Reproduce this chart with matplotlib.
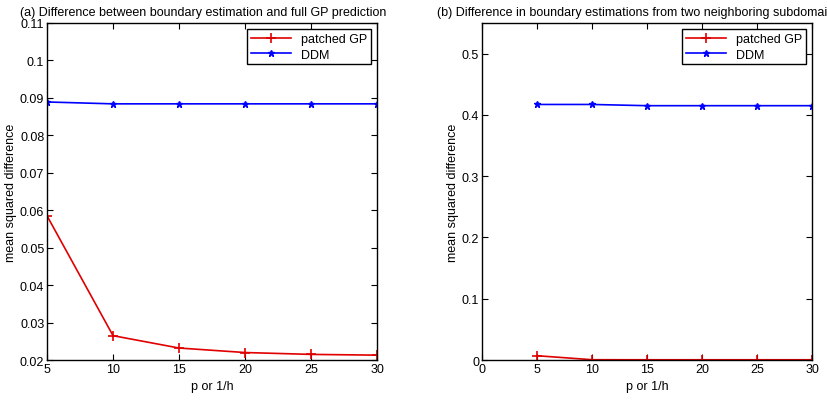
import numpy as np
import matplotlib
matplotlib.use("Agg")
import matplotlib.pyplot as plt

plt.rcParams['font.family'] = ['Liberation Sans', 'DejaVu Sans']
fs = 9

p_vals = [5, 10, 15, 20, 25, 30]

# (a) boundary estimation vs full GP prediction
a_patched = [0.0585, 0.0265, 0.0232, 0.0220, 0.0215, 0.0213]
a_ddm = [0.0889, 0.0884, 0.0884, 0.0884, 0.0884, 0.0884]

# (b) boundary estimations from two neighboring subdomains
b_patched = [0.0070, 0.0005, 0.0004, 0.0004, 0.0004, 0.0004]
b_ddm = [0.417, 0.417, 0.415, 0.415, 0.415, 0.415]

titles = ["(a) Difference between boundary estimation and full GP prediction",
          "(b) Difference in boundary estimations from two neighboring subdomains"]

fig = plt.figure(figsize=(8.28, 4.06), dpi=100)
ax1 = fig.add_axes([0.0568, 0.1108, 0.3986, 0.8302])
ax2 = fig.add_axes([0.5821, 0.1108, 0.3986, 0.8302])


def draw(ax, patched, ddm, title):
    ax.plot(p_vals, patched, color='#e00000', marker='+', markersize=7, lw=1.2,
            mew=1.2, label='patched GP')
    ax.plot(p_vals, ddm, color='#0000ff', marker='*', markersize=5, lw=1.2,
            label='DDM')
    ax.set_title(title, fontsize=fs, pad=6, x=0.474)
    ax.set_xlabel('p or 1/h', fontsize=fs, labelpad=4)
    ax.set_ylabel('mean squared difference', fontsize=fs, labelpad=2)
    ax.tick_params(direction='in', top=True, right=True, labelsize=fs,
                   length=4, width=0.8, pad=2)
    for s in ax.spines.values():
        s.set_linewidth(1.0)
    leg = ax.legend(loc='upper right', fontsize=fs, fancybox=False,
                    framealpha=1, borderaxespad=0.5, handlelength=3.2,
                    numpoints=1, borderpad=0.3, labelspacing=0.3)
    leg.get_frame().set_edgecolor('black')
    leg.get_frame().set_linewidth(1.0)


draw(ax1, a_patched, a_ddm, titles[0])
ax1.set_xlim(5, 30)
ax1.set_ylim(0.02, 0.11)
ax1.set_yticks(np.arange(0.02, 0.111, 0.01))
ax1.set_yticklabels(['0.02', '0.03', '0.04', '0.05', '0.06', '0.07',
                     '0.08', '0.09', '0.1', '0.11'])

draw(ax2, b_patched, b_ddm, titles[1])
ax2.set_xlim(0, 30)
ax2.set_ylim(0, 0.55)
ax2.set_yticks([0, 0.1, 0.2, 0.3, 0.4, 0.5])
ax2.set_yticklabels(['0', '0.1', '0.2', '0.3', '0.4', '0.5'])

fig.savefig('out.png', dpi=100)
